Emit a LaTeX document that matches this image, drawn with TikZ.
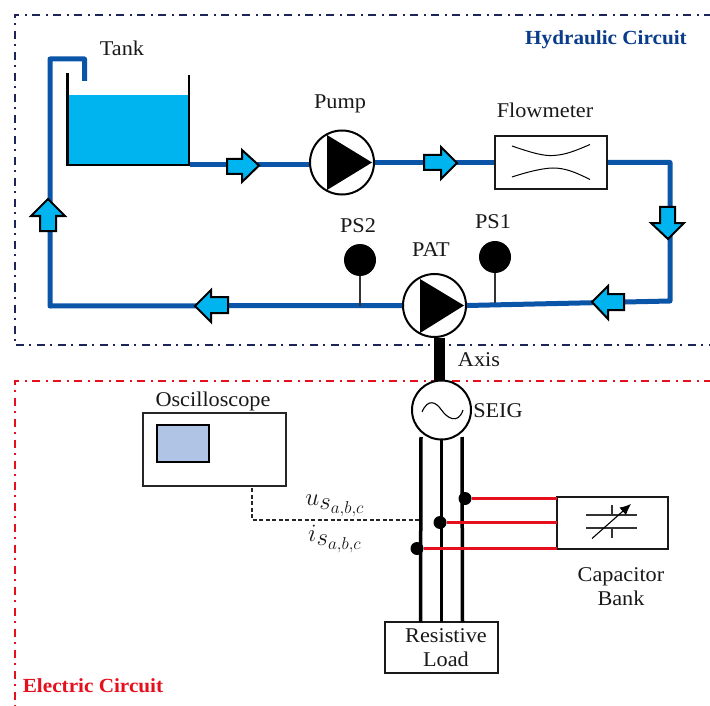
\documentclass[tikz,border=0pt]{standalone}
\usepackage{fontspec}
\usepackage{amsmath}
\setmainfont[FakeStretch=1.06]{Liberation Serif}
\usetikzlibrary{arrows.meta}
\definecolor{pipeblue}{HTML}{0B55A8}
\definecolor{water}{HTML}{00B4F0}
\definecolor{navy}{HTML}{1C2458}
\definecolor{hydtext}{HTML}{0A3C8C}
\definecolor{redline}{HTML}{E60F1E}
\definecolor{screenfill}{HTML}{B0C4E6}
\tikzset{
  lbl/.style={font=\fontsize{21}{24}\selectfont, text=black!90, inner sep=0pt},
  mathlbl/.style={inner sep=0pt, font=\fontsize{23}{26}\selectfont, text=black!90},
  pipe/.style={draw=pipeblue, line width=5pt, line join=round},
  blk/.style={draw=black!90, line width=2pt, rectangle, inner sep=0pt},
  flowarrow/.style={draw=black, fill=water, line width=2pt, line join=miter},
  pumpc/.style={draw=black, fill=white, line width=2pt, circle, inner sep=0pt, minimum size=#1},
  sensor/.style={fill=black, circle, inner sep=0pt, minimum size=32pt},
  dotn/.style={fill=black, circle, inner sep=0pt, minimum size=13pt},
  wire/.style={draw=black, line width=3.5pt},
  redw/.style={draw=redline, line width=3.2pt},
  frame/.style={line width=2pt, dash pattern=on 8pt off 5pt on 2pt off 6pt}
}
\begin{document}
\begin{tikzpicture}[x=1pt,y=-1pt]
\useasboundingbox (0,0) rectangle (710,706);
\fill[white] (0,0) rectangle (710,706);
% frames
\draw[frame,draw=navy] (712,15) -- (14.5,15) -- (14.5,345) -- (712,345);
\draw[frame,draw=redline] (712,381) -- (14.5,381) -- (14.5,706);
% tank
\fill[water] (68,95) rectangle (188.5,165);
\draw[black,line width=2.2pt] (67.5,73) -- (67.5,165) -- (189,165) -- (189,75);
\coordinate (tankout) at (190,164.5);
\coordinate (tankin) at (84.5,81);
\coordinate (c1) at (84.5,59);
\coordinate (c2) at (50,59);
\coordinate (c3) at (50,306);
\coordinate (c4) at (670,162.5);
\coordinate (c5) at (670,301);
% equipment
\node[pumpc=64pt] (pump) at (342,162.5) {};
\node[pumpc=63pt] (pat) at (434.5,305.5) {};
\node[blk, fill=white, minimum width=112pt, minimum height=53pt] (flow) at (551,162.5) {};
% pipes
\draw[pipe] (tankin) -- (c1) -- (c2) -- (c3) -- (pat.west);
\draw[pipe] (tankout) -- (pump.west |- tankout);
\draw[pipe] (pump.east) -- (flow.west);
\draw[pipe] (flow.east) -- (c4) -- (c5) -- (pat.east);
% redraw pump faces
\fill[black] (327,135) -- (372,162.5) -- (327,190) -- cycle;
\fill[black] (420,279) -- (464,305.5) -- (420,333) -- cycle;
% venturi
\draw[black,line width=1pt] (512,146) .. controls (535,154) and (545,156) .. (553,155.5) .. controls (565,155) and (575,151) .. (590,144.5);
\draw[black,line width=1pt] (512,177) .. controls (530,171) and (545,168) .. (553,168) .. controls (565,168) and (575,172) .. (590,179.5);
% flow arrows
\draw[flowarrow] (227,159) -- (242,159) -- (242,150) -- (259,165.5) -- (242,182) -- (242,174) -- (227,174) -- cycle;
\draw[flowarrow] (424,155) -- (441,155) -- (441,147) -- (457,163) -- (441,179) -- (441,170) -- (424,170) -- cycle;
\draw[flowarrow] (660,207) -- (675,207) -- (675,223) -- (684,223) -- (668,239) -- (651,223) -- (660,223) -- cycle;
\draw[flowarrow] (624,294) -- (608,294) -- (608,286) -- (592,302) -- (608,319) -- (608,310) -- (624,310) -- cycle;
\draw[flowarrow] (228,297) -- (211,297) -- (211,290) -- (195,306) -- (211,322) -- (211,313) -- (228,313) -- cycle;
\draw[flowarrow] (40,231) -- (40,216) -- (31,216) -- (48,199) -- (65,216) -- (56,216) -- (56,231) -- cycle;
% sensors
\node[sensor] (ps2) at (360,260) {};
\node[sensor] (ps1) at (495,257) {};
\coordinate (ps2t) at (360,306);
\coordinate (ps1t) at (495,303);
\draw[black!80,line width=1.1pt] (ps2) -- (ps2t);
\draw[black!80,line width=1.1pt] (ps1) -- (ps1t);
% generator and axis
\node[pumpc=59pt] (seig) at (441.5,410) {};
\draw[black,line width=11pt] (439.5,337.5) -- (439.5,381);
\draw[black,line width=1.1pt] (422,412) .. controls (428,398) and (436,402) .. (441.5,410) .. controls (447,418) and (458,425) .. (463,410);
% load, capacitor bank
\node[blk, minimum width=113pt, minimum height=51pt] (load) at (441.5,647.5) {};
\node[blk, minimum width=111pt, minimum height=52pt] (cap) at (612.5,523) {};
% three phase wires
\coordinate (wa) at (421,437);
\coordinate (wb) at (441.5,439);
\coordinate (wc) at (462,437);
\coordinate (la) at (420.5,622);
\coordinate (lb) at (441.5,622);
\coordinate (lc) at (462.5,622);
\draw[wire] (wa) -- (la);
\draw[wire] (wb) -- (lb);
\draw[wire] (wc) -- (lc);
\node[dotn] (d1) at (465,498.5) {};
\node[dotn] (d2) at (440,522.5) {};
\node[dotn] (d3) at (417,548.5) {};
\coordinate (r1) at (557,498.5);
\coordinate (r2) at (557,522.5);
\coordinate (r3) at (557,548.5);
\draw[redw] (d1) -- (r1);
\draw[redw] (d2) -- (r2);
\draw[redw] (d3) -- (r3);
% capacitor symbol
\draw[black!80,line width=1.1pt] (586,515) -- (637,515);
\draw[black!80,line width=1.1pt] (586,528) -- (637,528);
\draw[black!80,line width=1.1pt] (612,505) -- (612,515);
\draw[black!80,line width=1.1pt] (612,528) -- (612,538);
\draw[black,line width=1.1pt,-{Latex[length=11pt,width=10pt]}] (592,538.5) -- (631,504);
% oscilloscope
\node[draw=black!85, line width=1.4pt, fill=white, minimum width=143pt, minimum height=73pt, inner sep=0pt] (osc) at (214.5,449.5) {};
\node[draw=black, line width=1.8pt, fill=screenfill, minimum width=52pt, minimum height=37pt, inner sep=0pt] (screen) at (183,443.5) {};
\coordinate (o1) at (252,488);
\coordinate (o2) at (252,520);
\coordinate (o3) at (420,520);
\draw[black!85,line width=1.1pt,dash pattern=on 4pt off 2.5pt] (o1) -- (o2) -- (o3);
% labels
\node[lbl] (ltank) at (122,48) {Tank};
\node[lbl] (lpump) at (340,104) {Pump};
\node[lbl] (lflow) at (545,110) {Flowmeter};
\node[lbl] (lps2) at (358,226) {PS2};
\node[lbl] (lps1) at (493,222) {PS1};
\node[lbl] (lpat) at (431,250) {PAT};
\node[lbl] (laxis) at (479,360) {Axis};
\node[lbl] (lseig) at (498,411) {SEIG};
\node[lbl] (losc) at (213,401) {Oscilloscope};
\node[lbl, align=center] (lcap) at (621,587) {Capacitor\\[0pt]Bank};
\node[lbl, align=center] (lload) at (446,648) {Resistive\\[0pt]Load};
\node[mathlbl] (lu) at (335,506) {$u_{\textstyle s_{\scriptstyle a,b,c}}$};
\node[mathlbl] (li) at (335,539) {$i_{\textstyle s_{\scriptstyle a,b,c}}$};
\node[inner sep=0pt,font=\bfseries\fontsize{20}{24}\selectfont,text=hydtext] (lhyd) at (606,40) {Hydraulic Circuit};
\node[inner sep=0pt,font=\bfseries\fontsize{20}{24}\selectfont,text=redline] (lele) at (93,686) {Electric Circuit};
\end{tikzpicture}
\end{document}
